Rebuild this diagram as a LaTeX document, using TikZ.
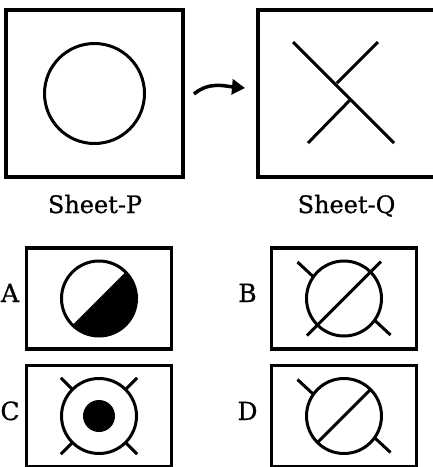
\documentclass[tikz,border=0pt]{standalone}
\usepackage{fontspec}
\setmainfont{DejaVu Serif}[BoldFont=DejaVu Serif, BoldFeatures={FakeBold=0.8}]
\usetikzlibrary{arrows.meta}

\begin{document}
\begin{tikzpicture}[x=1pt, y=1pt,
  sheetbox/.style={draw, line width=3.3pt, minimum width=177pt, minimum height=167pt, inner sep=0pt},
  optbox/.style={draw, line width=3.3pt, minimum width=145pt, minimum height=101pt, inner sep=0pt},
  tag/.style={font=\fontsize{24}{28}\selectfont\bfseries, anchor=base, inner sep=0pt},
  symline/.style={line width=3pt}]
  \useasboundingbox (0,0) rectangle (433,-467);

  % Sheets
  \node[sheetbox] (sheetP) at (94.5,-93.5) {};
  \node[sheetbox] (sheetQ) at (346.5,-93.5) {};
  \node[tag] (labP) at (95,-213) {Sheet-P};
  \node[tag] (labQ) at (346.5,-213) {Sheet-Q};

  % Circle on P
  \draw[symline] (sheetP.center) circle (50);

  % Cross on Q
  \draw[symline] (293,-42) -- (394,-143);
  \draw[symline] (378,-42) -- (337,-83);
  \draw[symline] (350,-100) -- (308,-143);

  % Arrow
  \coordinate (arrS) at (194,-94);
  \coordinate (arrE) at (245,-88);
  \draw[line width=3.5pt, -{Triangle[length=13pt, width=15pt]}] (arrS) to[out=40, in=175] (arrE);

  % Options
  \foreach \nm/\cx/\cy in {optA/99/-298.5, optB/344/-298.5, optC/99/-416, optD/344/-416}
    \node[optbox] (\nm) at (\cx,\cy) {};
  \foreach \t/\x/\y in {A/10/-302, B/247.5/-302, C/10/-420, D/247.5/-420}
    \node[tag, font=\fontsize{25}{30}\selectfont\bfseries] (tag\t) at (\x,\y) {\t};

  % A
  \fill ([shift={(45:37.5)}]optA.center) arc[start angle=45, end angle=-135, radius=37.5] -- cycle;
  \draw[symline] (optA.center) circle (37.5);

  % B
  \begin{scope}[shift={(optB.center)}]
    \draw[symline] (0,0) circle (37.5);
    \draw[symline] (-37,-37) -- (37,37);
    \draw[symline] (-46.5,36.5) -- (-31.5,22.5);
    \draw[symline] (31.5,-22.5) -- (46.5,-36.5);
  \end{scope}

  % C
  \begin{scope}[shift={(optC.center)}]
    \draw[symline] (0,0) circle (37.5);
    \fill (0,0) circle (16);
    \foreach \a in {45,135,225,315}
      \draw[symline] (\a:37.5) -- (\a:54);
  \end{scope}

  % D
  \begin{scope}[shift={(optD.center)}]
    \draw[symline] (0,0) circle (37.5);
    \draw[symline] (225:37.5) -- (45:37.5);
    \draw[symline] (-46.5,36.5) -- (-31.5,22.5);
    \draw[symline] (31.5,-22.5) -- (46.5,-36.5);
  \end{scope}
\end{tikzpicture}
\end{document}
